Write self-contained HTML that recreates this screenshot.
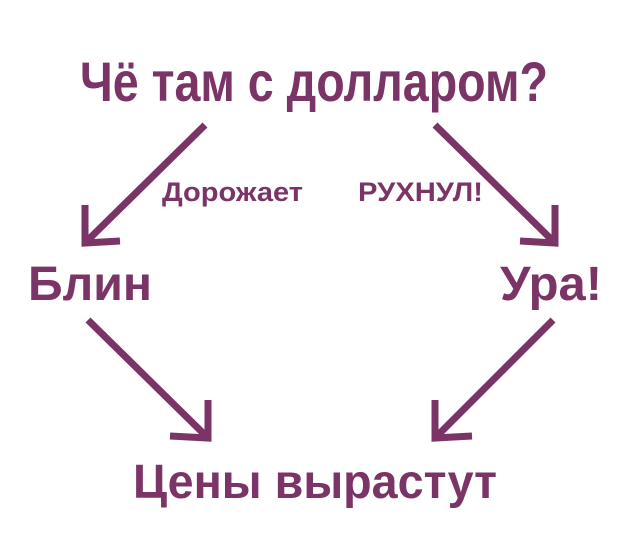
<!DOCTYPE html>
<html><head><meta charset="utf-8"><style>html,body{margin:0;padding:0;background:#fff}</style></head>
<body>
<svg width="630" height="552" viewBox="0 0 630 552" xmlns="http://www.w3.org/2000/svg">
<g fill="#7a3566" font-family="Liberation Sans, DejaVu Sans, sans-serif" font-weight="bold">
<text x="80" y="101" font-size="56" textLength="468" lengthAdjust="spacingAndGlyphs">Чё там с долларом?</text>
<text x="28" y="300" font-size="48" textLength="124" lengthAdjust="spacingAndGlyphs">Блин</text>
<text x="500" y="300" font-size="48" textLength="102" lengthAdjust="spacingAndGlyphs">Ура!</text>
<text x="133" y="498" font-size="48" textLength="364" lengthAdjust="spacingAndGlyphs">Цены вырастут</text>
<text x="162" y="201" font-size="27" textLength="141" lengthAdjust="spacingAndGlyphs">Дорожает</text>
<text x="358" y="201" font-size="27" textLength="125" lengthAdjust="spacingAndGlyphs">РУХНУЛ!</text>
</g>
<g stroke="#7a3566" stroke-width="7" fill="none" stroke-linecap="butt" stroke-linejoin="miter">
<line x1="205" y1="125" x2="87" y2="241"/>
<polyline points="85,205 85,243 120,241"/>
<line x1="435" y1="125" x2="553" y2="241"/>
<polyline points="555,205 555,243 520,241"/>
<line x1="88" y1="320" x2="206" y2="436"/>
<polyline points="208,400 208,438 170,436"/>
<line x1="553" y1="320" x2="437" y2="436"/>
<polyline points="435,400 435,438 472,436"/>
</g>
</svg>
</body></html>
